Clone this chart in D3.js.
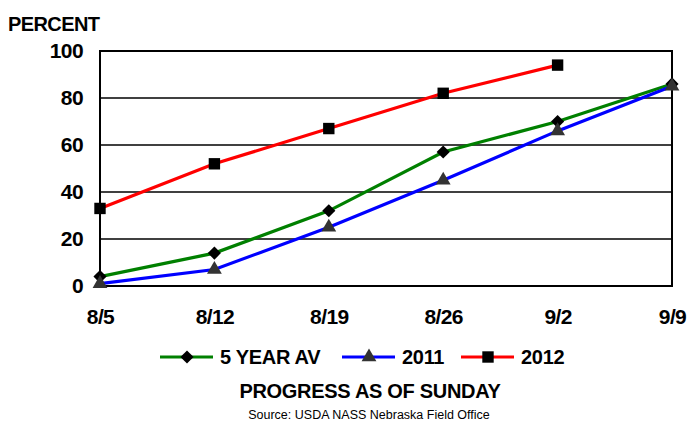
<!DOCTYPE html>
<html>
<head>
<meta charset="utf-8">
<script src="https://cdn.jsdelivr.net/npm/d3@7"></script>
<style>
  body { margin: 0; background: #fff; }
  svg { display: block; font-family: "Liberation Sans", Arial, sans-serif; }
</style>
</head>
<body>
<svg width="688" height="422"></svg>
<script>
// weekly progress, percent
const weeks = ['8/5', '8/12', '8/19', '8/26', '9/2', '9/9'];
const fiveYear = [4, 14, 32, 57, 70, 86];
const y2011 = [1, 7, 25, 45, 66, 85];
const y2012 = [33, 52, 67, 82, 94];
const yTicks = [0, 20, 40, 60, 80, 100];

const series = [
  { name: '5 YEAR AV', values: fiveYear, color: '#008000', symbol: d3.symbolDiamond2, size: 110, fill: '#000' },
  { name: '2011', values: y2011, color: '#0000ff', symbol: d3.symbolTriangle, size: 95, fill: '#333' },
  { name: '2012', values: y2012, color: '#ff0000', symbol: d3.symbolSquare, size: 130, fill: '#000' }
];

const svg = d3.select('svg');

const x = d3.scalePoint().domain(weeks).range([100, 672]);
const y = d3.scaleLinear().domain([0, 100]).range([286, 51]);

// gridlines
svg.append('g')
  .selectAll('line')
  .data(yTicks.slice(1, -1))
  .enter()
  .append('line')
  .attr('x1', 100)
  .attr('x2', 672)
  .attr('y1', (d) => y(d))
  .attr('y2', (d) => y(d))
  .attr('stroke', '#000')
  .attr('stroke-width', 1.5);

// plot frame
svg.append('rect')
  .attr('x', 100)
  .attr('y', y(100))
  .attr('width', 572)
  .attr('height', y(0) - y(100))
  .attr('fill', 'none')
  .attr('stroke', '#000')
  .attr('stroke-width', 2);

// y axis labels
const yAxis = svg.append('g')
  .attr('transform', 'translate(100,0)')
  .call(d3.axisLeft(y).tickValues(yTicks).tickSize(0).tickPadding(17));
yAxis.select('.domain').remove();
yAxis.selectAll('text')
  .attr('font-size', 21)
  .attr('font-weight', 'bold')
  .attr('font-family', '"Liberation Sans", Arial, sans-serif')
  .attr('letter-spacing', -0.6)
  .attr('fill', '#000');

// x axis labels
const xAxis = svg.append('g')
  .attr('transform', 'translate(0,' + y(0) + ')')
  .call(d3.axisBottom(x).tickSize(0).tickPadding(23));
xAxis.select('.domain').remove();
xAxis.selectAll('text')
  .attr('font-size', 21)
  .attr('font-weight', 'bold')
  .attr('font-family', '"Liberation Sans", Arial, sans-serif')
  .attr('letter-spacing', -0.6)
  .attr('fill', '#000');

svg.append('text')
  .attr('x', 8)
  .attr('y', 31)
  .attr('font-size', 20)
  .attr('font-weight', 'bold')
  .attr('letter-spacing', -0.6)
  .text('PERCENT');

// lines and markers
const line = d3.line()
  .x((d, i) => x(weeks[i]))
  .y((d) => y(d));

series.forEach((s) => {
  svg.append('path')
    .datum(s.values)
    .attr('d', line)
    .attr('fill', 'none')
    .attr('stroke', s.color)
    .attr('stroke-width', 3.2);
});

series.forEach((s) => {
  svg.append('g')
    .selectAll('path')
    .data(s.values)
    .enter()
    .append('path')
    .attr('d', d3.symbol().type(s.symbol).size(s.size))
    .attr('transform', (d, i) => 'translate(' + x(weeks[i]) + ',' + y(d) + ')')
    .attr('fill', s.fill);
});

// legend
const legendX = [160, 342, 461];
const legend = svg.append('g')
  .selectAll('g')
  .data(series)
  .enter()
  .append('g')
  .attr('transform', (d, i) => 'translate(' + legendX[i] + ',357)');

legend.append('line')
  .attr('x1', 0)
  .attr('x2', 53)
  .attr('stroke', (d) => d.color)
  .attr('stroke-width', 3.2);

legend.append('path')
  .attr('d', (d) => d3.symbol().type(d.symbol).size(d.size)())
  .attr('transform', 'translate(27,0)')
  .attr('fill', (d) => d.fill);

legend.append('text')
  .attr('x', 60)
  .attr('y', 7)
  .attr('font-size', 20)
  .attr('font-weight', 'bold')
  .attr('letter-spacing', -0.3)
  .text((d) => d.name);

svg.append('text')
  .attr('x', 370)
  .attr('y', 398)
  .attr('text-anchor', 'middle')
  .attr('font-size', 20)
  .attr('font-weight', 'bold')
  .attr('letter-spacing', -0.3)
  .text('PROGRESS AS OF SUNDAY');

svg.append('text')
  .attr('x', 369)
  .attr('y', 419)
  .attr('text-anchor', 'middle')
  .attr('font-size', 12.5)
  .text('Source: USDA NASS Nebraska Field Office');
</script>
</body>
</html>
